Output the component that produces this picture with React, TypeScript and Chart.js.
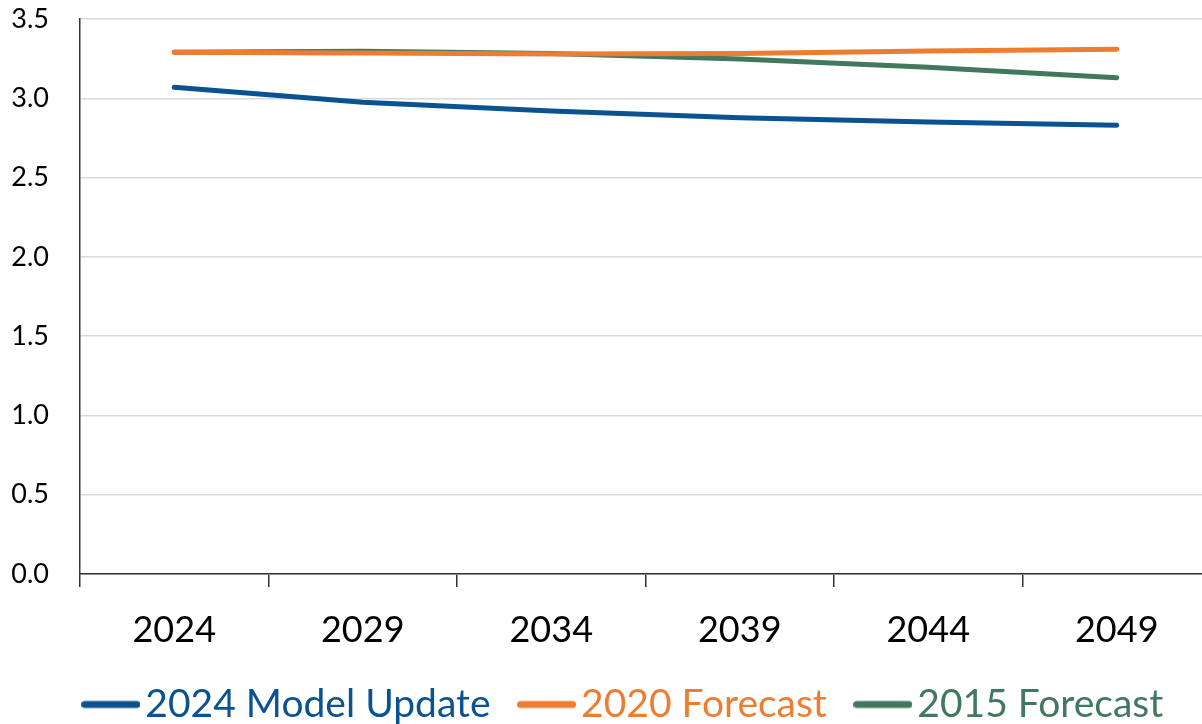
import React, { useEffect, useRef } from "react";
import { Chart, registerables } from "chart.js";

Chart.register(...registerables);

const years = ["2024", "2029", "2034", "2039", "2044", "2049"];
const modelUpdate2024 = [3.07, 2.975, 2.92, 2.878, 2.85, 2.83];
const forecast2020 = [3.29, 3.285, 3.28, 3.283, 3.298, 3.31];
const forecast2015 = [3.29, 3.297, 3.283, 3.247, 3.195, 3.13];
const seriesNames = ["2024 Model Update", "2020 Forecast", "2015 Forecast"];
const seriesColors = ["#0B5290", "#ED7D31", "#41785E"];

const FONT = "Lato, 'Open Sans', sans-serif";

function makeLegendLine(color: string) {
  const c = document.createElement("canvas");
  c.width = 59;
  c.height = 10;
  const g = c.getContext("2d")!;
  g.strokeStyle = color;
  g.lineWidth = 7;
  g.lineCap = "round";
  g.beginPath();
  g.moveTo(3.5, 5);
  g.lineTo(55.5, 5);
  g.stroke();
  return c;
}

const layoutTweaks = {
  id: "layoutTweaks",
  afterLayout(chart: any) {
    const lg = chart.legend;
    if (lg) {
      const dx = 24;
      const dy = 10;
      lg.left += dx;
      lg.right += dx;
      lg.top += dy;
      lg.bottom += dy;
    }
    const x = chart.scales.x;
    if (x) x.bottom += 60;
  },
};

export default function App() {
  const ref = useRef<HTMLCanvasElement | null>(null);

  useEffect(() => {
    if (!ref.current) return;
    const legendImgs = seriesColors.map(makeLegendLine);
    const data = [modelUpdate2024, forecast2020, forecast2015];
    const chart = new Chart(ref.current, {
      type: "line",
      plugins: [layoutTweaks],
      data: {
        labels: years,
        datasets: data.map((d, i) => ({
          label: seriesNames[i],
          data: d,
          borderColor: seriesColors[i],
          backgroundColor: seriesColors[i],
          borderWidth: 5,
          borderCapStyle: "round" as const,
          borderJoinStyle: "round" as const,
          pointRadius: 0,
          tension: 0,
        })),
      },
      options: {
        animation: false,
        responsive: true,
        maintainAspectRatio: false,
        layout: { padding: { left: 0, right: 0, top: 19, bottom: 0 } },
        plugins: {
          tooltip: { enabled: false },
          legend: {
            position: "bottom",
            labels: {
              usePointStyle: true,
              pointStyleWidth: 30,
              boxHeight: 8,
              padding: 41,
              font: { family: FONT, size: 39 },
              generateLabels: (ch: any) =>
                ch.data.datasets.map((ds: any, i: number) => ({
                  text: ds.label,
                  fontColor: seriesColors[i],
                  fillStyle: seriesColors[i],
                  strokeStyle: seriesColors[i],
                  lineWidth: 0,
                  pointStyle: legendImgs[i],
                  hidden: false,
                  datasetIndex: i,
                })),
            },
          },
        },
        scales: {
          x: {
            offset: true,
            grid: {
              offset: true,
              drawOnChartArea: false,
              drawTicks: true,
              tickLength: 13,
              color: "#333",
              lineWidth: 1.5,
            },
            border: { display: true, color: "#333", width: 1.5 },
            ticks: {
              color: "#000",
              font: { family: FONT, size: 36 },
              padding: 22,
              maxRotation: 0,
            },
            afterFit: (s: any) => {
              const lh = s.chart.legend ? s.chart.legend.height : 92;
              s.height = 724 - 574 - lh;
            },
          },
          y: {
            min: 0,
            max: 3.5,
            grid: {
              color: "#d9d9d9",
              lineWidth: 1.5,
              drawTicks: false,
            },
            border: { display: true, color: "#333", width: 1.5 },
            ticks: {
              stepSize: 0.5,
              color: "#000",
              padding: 31,
              font: { family: FONT, size: 27 },
              callback: (v: any) => Number(v).toFixed(1),
            },
            afterFit: (s: any) => {
              s.width = 80;
              s.paddingTop = 0;
              s.paddingBottom = 0;
            },
          },
        },
      },
    });
    return () => chart.destroy();
  }, []);

  return (
    <div
      style={{
        position: "absolute",
        left: 0,
        top: 0,
        width: 1202,
        height: 724,
        overflow: "hidden",
        background: "#fff",
      }}
    >
      <div style={{ position: "relative", width: 1211, height: 724 }}>
        <canvas ref={ref} />
      </div>
    </div>
  );
}
